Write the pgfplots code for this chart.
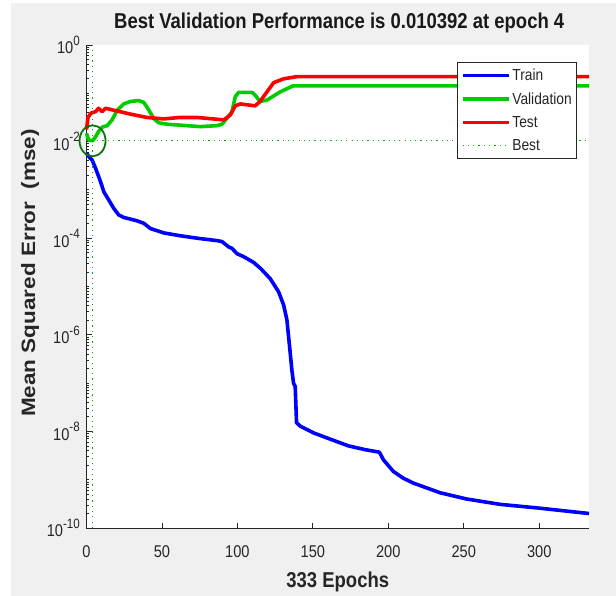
\documentclass[border=0pt]{standalone}
\usepackage{fontspec}
\setmainfont{Liberation Sans}[FakeStretch=0.86]
\newfontfamily\ylabfont{Liberation Sans}
\usepackage{graphicx}
\usepackage{pgfplots}
\pgfplotsset{compat=1.18}
\definecolor{figgray}{RGB}{240,240,240}
\definecolor{mblue}{rgb}{0,0,1}
\definecolor{mgreen}{rgb}{0,0.8,0}
\definecolor{mred}{rgb}{1,0,0}
\definecolor{dgreen}{rgb}{0.05,0.45,0.05}
\definecolor{axgray}{RGB}{38,38,38}
\newcommand\tk[1]{10\raisebox{8.5pt}{\fontsize{13.5}{13.5}\selectfont #1}}

\begin{document}
\begin{tikzpicture}[x=1pt,y=1pt]
\fill[white] (0,0) rectangle (616,596);
\fill[figgray] (11,0) rectangle (616,593);
\begin{axis}[
  at={(86.5pt,68pt)}, anchor=south west,
  scale only axis, width=502.5pt, height=483pt,
  ymode=log, xmin=0, xmax=333, ymin=1e-10, ymax=1,
  axis x line*=bottom, axis y line*=left,
  axis line style={-, axgray, line width=1pt},
  axis background/.style={fill=white},
  clip=false,
  xtick={0,50,100,150,200,250,300},
  xticklabels={0,50,100,150,200,250,300},
  ytick={1e-10,1e-8,1e-6,1e-4,1e-2,1},
  yticklabels={\tk{-10},\tk{-8},\tk{-6},\tk{-4},\tk{-2},\tk{0}},
  minor ytick={2e-10,3e-10,4e-10,5e-10,6e-10,7e-10,8e-10,9e-10,1e-9,2e-9,3e-9,4e-9,5e-9,6e-9,7e-9,8e-9,9e-9,
    2e-8,3e-8,4e-8,5e-8,6e-8,7e-8,8e-8,9e-8,1e-7,2e-7,3e-7,4e-7,5e-7,6e-7,7e-7,8e-7,9e-7,
    2e-6,3e-6,4e-6,5e-6,6e-6,7e-6,8e-6,9e-6,1e-5,2e-5,3e-5,4e-5,5e-5,6e-5,7e-5,8e-5,9e-5,
    2e-4,3e-4,4e-4,5e-4,6e-4,7e-4,8e-4,9e-4,1e-3,2e-3,3e-3,4e-3,5e-3,6e-3,7e-3,8e-3,9e-3,
    2e-2,3e-2,4e-2,5e-2,6e-2,7e-2,8e-2,9e-2,1e-1,2e-1,3e-1,4e-1,5e-1,6e-1,7e-1,8e-1,9e-1},
  tick align=inside,
  major tick length=5pt, minor tick length=2.5pt,
  tick style={axgray, line width=0.8pt},
  ticklabel style={font=\fontsize{17}{17}\selectfont, text=axgray},
  xticklabel style={anchor=base, yshift=-29.3pt},
  yticklabel style={anchor=east, inner sep=0pt, xshift=-6.5pt},
  title={Best Validation Performance is 0.010392 at epoch 4},
  title style={font=\fontsize{21.5}{21.5}\selectfont\bfseries, text=black!90,
    at={(axis description cs:0.5,1)}, anchor=base, yshift=10.3pt, xshift=1.5pt},
  xlabel={333 Epochs},
  xlabel style={font=\fontsize{21.5}{21.5}\selectfont\bfseries, text=black!85,
    at={(axis description cs:0.5,0)}, anchor=base, yshift=-59pt},
  ylabel={\scalebox{1}[0.86]{\ylabfont\fontsize{22.5}{22.5}\selectfont\bfseries Mean Squared Error\ \ (mse)}},
  ylabel style={text=black!85, at={(axis description cs:-0.1124,0.528)}, anchor=center},
  legend style={at={(axis description cs:0.9765,0.9655)}, anchor=north east,
    draw=axgray, line width=0.8pt, fill=white,
    font=\fontsize{16}{16}\selectfont, text=axgray,
    row sep=6.5pt, inner ysep=5pt},
  legend cell align=left,
  legend image code/.code={\draw[#1] (0pt,0pt) -- (46pt,0pt);},
]
% Train
\addplot[mblue, line width=3.6pt, line join=round] coordinates {
(0,5.754e-3) (2,4.677e-3) (3.7,4.169e-3) (6,2.818e-3) (9.3,1.479e-3) (11.5,9.12e-4)
(14.8,6.166e-4) (18,4.169e-4) (21.4,3.020e-4) (24.7,2.692e-4) (33.5,2.291e-4) (37.9,2.042e-4)
(42.4,1.585e-4) (51.2,1.288e-4) (62.2,1.122e-4) (73.3,1.0e-4) (86.5,8.913e-5) (89.8,8.511e-5)
(94.2,6.607e-5) (96.4,6.166e-5) (99.7,4.786e-5) (104,4.169e-5) (110.7,3.162e-5) (115.5,2.344e-5)
(121.8,1.445e-5) (127.3,7.762e-6) (130.6,4.169e-6) (132.8,2.042e-6) (134.6,5.623e-7)
(136.1,1.862e-7) (137.2,1.0e-7) (138.3,8.511e-8) (139.2,1.514e-8) (141.6,1.288e-8)
(146,1.096e-8) (150.4,9.333e-9) (161.5,6.918e-9) (173.6,5.012e-9) (185,4.169e-9) (194.1,3.715e-9)
(196.8,2.570e-9) (203.4,1.479e-9) (210,1.072e-9) (216.6,8.511e-10) (234.3,5.370e-10) (252,3.981e-10)
(274,3.090e-10) (300.5,2.570e-10) (333,1.995e-10)
};
\addlegendentry{Train}
% Validation
\addplot[mgreen, line width=3.6pt, line join=round] coordinates {
(0,1.479e-2) (1.5,1.072e-2) (4,1.0392e-2) (6,1.259e-2) (8,1.622e-2) (10.4,1.995e-2)
(13.7,2.138e-2) (17,2.818e-2) (20.3,4.467e-2) (24.7,6.026e-2) (29,6.761e-2) (34.6,7.079e-2)
(38,6.457e-2) (41,4.677e-2) (44.5,3.020e-2) (47.8,2.455e-2) (53.4,2.291e-2) (66.6,2.138e-2)
(75.4,2.042e-2) (86.5,2.138e-2) (89.8,2.291e-2) (93,3.020e-2) (96.4,4.169e-2) (98.6,8.511e-2)
(100.8,0.1047) (109.7,0.1047) (111.8,9.120e-2) (115,6.761e-2) (119.6,7.244e-2) (128.4,0.1072)
(137,0.1429) (333,0.1429)
};
\addlegendentry{Validation}
% Test
\addplot[mred, line width=3.6pt, line join=round] coordinates {
(0,1.778e-2) (1,3.162e-2) (3,3.890e-2) (6,4.169e-2) (8,4.898e-2) (10.4,4.169e-2) (12.6,4.898e-2)
(18,4.467e-2) (29,3.715e-2) (40,3.162e-2) (51,2.951e-2) (62,3.162e-2) (73,3.162e-2) (84,2.951e-2)
(91,2.818e-2) (95.3,3.548e-2) (98.6,5.495e-2) (102,6.026e-2) (111.8,5.495e-2) (115,6.761e-2)
(119.6,0.1072) (124,0.1660) (130.6,0.1995) (139.4,0.2213) (333,0.2213)
};
\addlegendentry{Test}
% Best lines
\addplot[mgreen!85!black, line width=1.2pt, dash pattern=on 1.2pt off 4.1pt] coordinates {(0,0.010392) (333,0.010392)};
\addlegendentry{Best}
\addplot[mgreen!85!black, line width=1.2pt, dash pattern=on 1.2pt off 4.1pt, forget plot] coordinates {(4,1e-10) (4,1)};
\addplot[only marks, mark=o, mark size=15.5pt, dgreen, line width=1.8pt, mark options={xscale=0.84}, forget plot] coordinates {(4,0.010392)};
\end{axis}
\end{tikzpicture}
\end{document}
